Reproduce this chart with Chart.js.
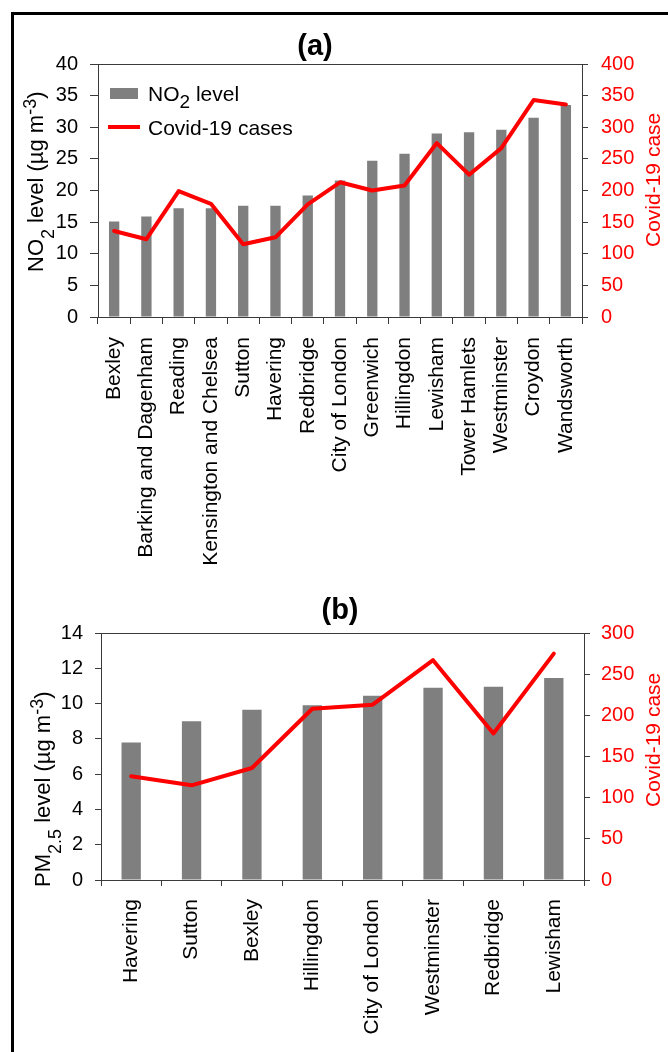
<!DOCTYPE html>
<html>
<head>
<meta charset="utf-8">
<script src="https://cdn.jsdelivr.net/npm/chart.js@4/dist/chart.umd.min.js"></script>
<style>
  html, body { margin: 0; padding: 0; background: #fff; }
  body { width: 668px; height: 1052px; position: relative; overflow: hidden; }
  .frame { position: absolute; left: 11px; top: 12px; width: 720px; height: 1100px;
           border-left: 3px solid #000; border-top: 3px solid #000; }
  canvas { position: absolute; left: 0; }
  #chartA { top: 0; }
  #chartB { top: 590px; }
</style>
</head>
<body>
<div class="frame"></div>
<canvas id="chartA" width="668" height="590"></canvas>
<canvas id="chartB" width="668" height="462"></canvas>
<script>
// ---- (a) NO2 boroughs ----
const no2Boroughs = ["Bexley", "Barking and Dagenham", "Reading", "Kensington and Chelsea", "Sutton",
  "Havering", "Redbridge", "City of London", "Greenwich", "Hillingdon", "Lewisham",
  "Tower Hamlets", "Westminster", "Croydon", "Wandsworth"];
const no2Level = [15.1, 15.9, 17.2, 17.2, 17.6, 17.6, 19.2, 21.6, 24.7, 25.8, 29.0, 29.2, 29.6, 31.5, 33.5];
const no2Cases = [136, 123, 199, 179, 115, 126, 178, 213, 200, 208, 275, 225, 267, 343, 336];
const no2LevelTicks = [0, 5, 10, 15, 20, 25, 30, 35, 40];
const no2CaseTicks = [0, 50, 100, 150, 200, 250, 300, 350, 400];

// ---- (b) PM2.5 boroughs ----
const pmBoroughs = ["Havering", "Sutton", "Bexley", "Hillingdon", "City of London",
  "Westminster", "Redbridge", "Lewisham"];
const pmLevel = [7.8, 9.0, 9.65, 9.9, 10.45, 10.9, 10.95, 11.45];
const pmCases = [126, 115, 136, 208, 213, 267, 178, 275];
const pmLevelTicks = [0, 2, 4, 6, 8, 10, 12, 14];
const pmCaseTicks = [0, 50, 100, 150, 200, 250, 300];

const FONT = '"Liberation Sans", Arial, Helvetica, sans-serif';
const BAR_GREY = '#7f7f7f';
const RED = '#ff0000';
const AXIS = '#3a3a3a';

Chart.defaults.font.family = FONT;

// Draws a run of text pieces (with sub/superscripts) from an anchor; optionally rotated to read bottom-to-top.
function drawRich(ctx, parts, x, y, rotated, color) {
  ctx.save();
  ctx.translate(x, y);
  if (rotated) ctx.rotate(-Math.PI / 2);
  ctx.fillStyle = color;
  ctx.textBaseline = 'alphabetic';
  ctx.textAlign = 'left';
  let cx = 0;
  for (const p of parts) {
    ctx.font = (p.bold ? 'bold ' : '') + p.size + 'px ' + FONT;
    ctx.fillText(p.text, cx, p.dy || 0);
    cx += ctx.measureText(p.text).width;
  }
  ctx.restore();
}

function fixedTicks(values) {
  return function (scale) {
    scale.ticks = values.map(v => ({ value: v }));
  };
}

function makeChart(canvasId, cfg) {
  const { labels, bars, cases, levelTicks, caseTicks, area, decorate } = cfg;
  const W = 668, H = cfg.height;
  const decorations = {
    id: 'decorations',
    afterDraw(chart) {
      const ctx = chart.ctx;
      const a = chart.chartArea;
      // top edge of the plot frame
      ctx.save();
      ctx.strokeStyle = AXIS;
      ctx.lineWidth = 1;
      const yTop = Math.round(a.top) + 0.5;
      ctx.beginPath();
      ctx.moveTo(Math.round(a.left) + 0.5, yTop);
      ctx.lineTo(Math.round(a.right) + 0.5, yTop);
      ctx.stroke();
      ctx.restore();
      decorate(ctx, a);
    }
  };
  return new Chart(document.getElementById(canvasId), {
    data: {
      labels: labels,
      datasets: [
        {
          type: 'line',
          label: 'Covid-19 cases',
          data: cases,
          yAxisID: 'yCases',
          borderColor: RED,
          backgroundColor: RED,
          borderWidth: 4,
          pointRadius: 0,
          tension: 0,
          borderJoinStyle: 'round',
          borderCapStyle: 'round',
          order: 0
        },
        {
          type: 'bar',
          label: 'level',
          data: bars,
          yAxisID: 'yLevel',
          backgroundColor: BAR_GREY,
          borderWidth: 0,
          barPercentage: 0.32,
          categoryPercentage: 1.0,
          order: 1
        }
      ]
    },
    options: {
      responsive: false,
      devicePixelRatio: 1,
      animation: false,
      layout: { padding: { top: area.top, left: 0, right: 0, bottom: 0 } },
      plugins: { legend: { display: false }, tooltip: { enabled: false }, title: { display: false } },
      scales: {
        x: {
          type: 'category',
          offset: true,
          grid: { display: true, drawOnChartArea: false, drawTicks: true, tickLength: cfg.xTick, offset: true, color: AXIS },
          border: { display: true, color: AXIS, width: 1 },
          ticks: { autoSkip: false, maxRotation: 90, minRotation: 90, padding: cfg.xPad,
                   color: '#000', font: { size: 21, family: FONT } },
          afterFit(scale) { scale.height = H - area.bottom; }
        },
        yLevel: {
          type: 'linear',
          position: 'left',
          min: levelTicks[0],
          max: levelTicks[levelTicks.length - 1],
          afterBuildTicks: fixedTicks(levelTicks),
          grid: { display: true, drawOnChartArea: false, drawTicks: true, tickLength: cfg.yTick, color: AXIS },
          border: { display: true, color: AXIS, width: 1 },
          ticks: { padding: cfg.yPad, color: '#000', font: { size: 20, family: FONT } },
          afterFit(scale) { scale.width = area.left; }
        },
        yCases: {
          type: 'linear',
          position: 'right',
          min: caseTicks[0],
          max: caseTicks[caseTicks.length - 1],
          afterBuildTicks: fixedTicks(caseTicks),
          grid: { display: true, drawOnChartArea: false, drawTicks: true, tickLength: 6, color: AXIS },
          border: { display: true, color: AXIS, width: 1 },
          ticks: { padding: cfg.rPad, color: RED, font: { size: 20, family: FONT } },
          afterFit(scale) { scale.width = W - area.right; }
        }
      }
    },
    plugins: [decorations]
  });
}

const SUB = 18;

// (a) NO2 levels against Covid-19 cases
makeChart('chartA', {
  height: 590,
  labels: no2Boroughs,
  bars: no2Level,
  cases: no2Cases,
  levelTicks: no2LevelTicks,
  caseTicks: no2CaseTicks,
  area: { left: 98, right: 582, top: 64, bottom: 317 },
  xTick: 7, xPad: 13, yTick: 8, yPad: 12, rPad: 13,
  decorate(ctx, a) {
    ctx.save();
    ctx.font = 'bold 29px ' + FONT;
    ctx.fillStyle = '#000';
    ctx.textAlign = 'center';
    ctx.textBaseline = 'alphabetic';
    ctx.fillText('(a)', 315, 55);
    ctx.restore();

    drawRich(ctx, [
      { text: 'NO', size: 22 },
      { text: '2', size: SUB, dy: 11 },
      { text: ' level (\u00b5g m', size: 22 },
      { text: '-3', size: SUB, dy: -7 },
      { text: ')', size: 22 }
    ], 42.5, 272, true, '#000');

    drawRich(ctx, [{ text: 'Covid-19 case', size: 21 }], 660, 247, true, RED);

    // legend
    ctx.save();
    ctx.fillStyle = BAR_GREY;
    ctx.fillRect(110, 88, 28, 11);
    ctx.strokeStyle = RED;
    ctx.lineWidth = 4;
    ctx.lineCap = 'butt';
    ctx.beginPath();
    ctx.moveTo(108, 127);
    ctx.lineTo(140, 127);
    ctx.stroke();
    ctx.restore();
    drawRich(ctx, [
      { text: 'NO', size: 21 },
      { text: '2', size: 19, dy: 7 },
      { text: ' level', size: 21 }
    ], 148, 101, false, '#000');
    drawRich(ctx, [{ text: 'Covid-19 cases', size: 21 }], 148, 135, false, '#000');
  }
});

// (b) PM2.5 levels against Covid-19 cases
makeChart('chartB', {
  height: 462,
  labels: pmBoroughs,
  bars: pmLevel,
  cases: pmCases,
  levelTicks: pmLevelTicks,
  caseTicks: pmCaseTicks,
  area: { left: 101, right: 584, top: 43, bottom: 290 },
  xTick: 6, xPad: 13, yTick: 6, yPad: 12, rPad: 11,
  decorate(ctx, a) {
    ctx.save();
    ctx.font = 'bold 29px ' + FONT;
    ctx.fillStyle = '#000';
    ctx.textAlign = 'center';
    ctx.textBaseline = 'alphabetic';
    ctx.fillText('(b)', 340, 29);
    ctx.restore();

    drawRich(ctx, [
      { text: 'PM', size: 22 },
      { text: '2.5', size: SUB, dy: 11 },
      { text: ' level (\u00b5g m', size: 22 },
      { text: '-3', size: SUB, dy: -7 },
      { text: ')', size: 22 }
    ], 50, 297, true, '#000');

    drawRich(ctx, [{ text: 'Covid-19 case', size: 21 }], 660, 217, true, RED);
  }
});
</script>
</body>
</html>
